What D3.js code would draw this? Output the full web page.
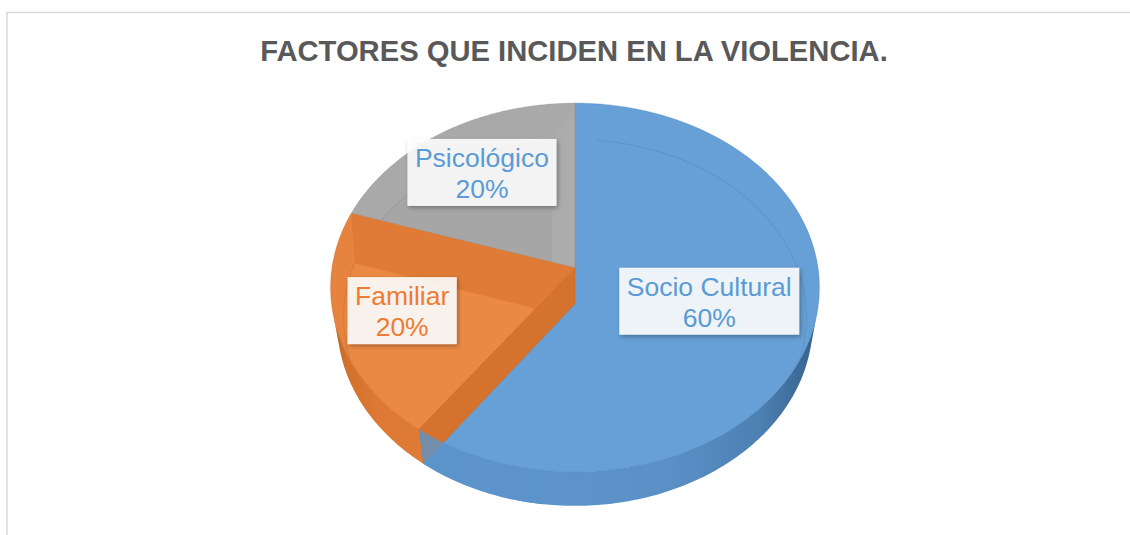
<!DOCTYPE html>
<html><head><meta charset="utf-8">
<script src="https://cdn.jsdelivr.net/npm/d3@7"></script>
<style>body{margin:0;background:#fff}svg{display:block}</style>
</head><body>
<script>
// ---------- data ----------
const title = "FACTORES QUE INCIDEN EN LA VIOLENCIA.";
const categories = ["Socio Cultural", "Familiar", "Psicológico"];
const values = [60, 20, 20];

// ---------- styles ----------
const topColors    = ["#66a0d6", "#eb8944", "#a6a6a6"];
const rimWallCols  = ["#66a0d6", "#e6843f", "#a9a9a9"];
const startWallCol = ["#66a0d6", "#e8863f", "#a6a6a6"];
const endWallCol   = ["#66a0d6", "#df7b36", "#acacac"];
const edgeCols     = ["#4f86bb", "#cf6d29", "#959595"];
const labelColors  = ["#5b9bd5", "#ed7d31", "#5b9bd5"];
const labelRadius  = [0.57, 0.73, 0.69];

const W = 1130, H = 535;
const S = 243, SINP = 0.75, COSP = Math.sqrt(1 - SINP * SINP), DIST = 6.25;
const CX = 575, CY = 268, THICK = 0.23;
const REC = 0.2, BW = 0.1, RIN = 0.97;
const CAM = [0, DIST * SINP, DIST * COSP];

const svg = d3.select("body").append("svg").attr("width", W).attr("height", H);
const defs = svg.append("defs");

// frame
svg.append("rect").attr("x", 7).attr("y", 12.5).attr("width", W + 20).attr("height", H + 20)
  .attr("fill", "none").attr("stroke", "#d9d9d9").attr("stroke-width", 1.5);

svg.append("text").attr("x", 574).attr("y", 61).attr("text-anchor", "middle")
  .attr("font-family", "'Liberation Sans', Arial, sans-serif").attr("font-weight", "bold")
  .attr("font-size", 29.2).attr("fill", "#595959").text(title);

// ---------- projection ----------
function proj(X, Y, Z) {
  const v = Y * COSP - Z * SINP;
  const d = Z * COSP + Y * SINP;
  const k = DIST / (DIST - d);
  return [CX + S * X * k, CY - S * v * k];
}
const U = a => [Math.sin(a), -Math.cos(a)];          // (X,Z) unit direction
const P2 = (xz, y) => proj(xz[0], y, xz[1]);
function poly(pts) { return "M" + pts.map(p => p[0].toFixed(2) + "," + p[1].toFixed(2)).join("L") + "Z"; }
function openPoly(pts) { return "M" + pts.map(p => p[0].toFixed(2) + "," + p[1].toFixed(2)).join("L"); }
function nsteps(a0, a1) { return Math.max(2, Math.ceil(Math.abs(a1 - a0) / (Math.PI / 180))); }
function arcPts(r, y, a0, a1) {
  const n = nsteps(a0, a1), pts = [];
  for (let i = 0; i <= n; i++) { const a = a0 + (a1 - a0) * i / n; pts.push(proj(r * Math.sin(a), y, -r * Math.cos(a))); }
  return pts;
}
function dot(a, b) { return a[0] * b[0] + a[1] * b[1] + a[2] * b[2]; }
function visible(n, p) { return dot(n, [CAM[0] - p[0], CAM[1] - p[1], CAM[2] - p[2]]) > 0; }
function runs(a0, a1, test) {
  const n = nsteps(a0, a1) * 2, out = []; let cur = null;
  for (let i = 0; i <= n; i++) {
    const a = a0 + (a1 - a0) * i / n;
    if (test(a)) { if (!cur) cur = [a, a]; cur[1] = a; }
    else if (cur) { out.push(cur); cur = null; }
  }
  if (cur) out.push(cur);
  return out.filter(r => r[1] > r[0]);
}

const arcs = d3.pie().sort(null).value(d => d)(values);
const total = d3.sum(values);
const fmt = d3.format(".0%");

// gradients for outer walls
const gB = defs.append("linearGradient").attr("id", "wallB").attr("gradientUnits", "userSpaceOnUse")
  .attr("x1", CX - S).attr("x2", CX + S).attr("y1", 0).attr("y2", 0);
[[0, "#5b93c9"], [0.35, "#5e96cd"], [0.7, "#5990c5"], [0.88, "#4d80b3"], [1, "#36618c"]]
  .forEach(s => gB.append("stop").attr("offset", s[0]).attr("stop-color", s[1]));
const gO = defs.append("linearGradient").attr("id", "wallO").attr("gradientUnits", "userSpaceOnUse")
  .attr("x1", CX - S).attr("x2", CX - 150).attr("y1", 0).attr("y2", 0);
[[0, "#b8601f"], [0.15, "#d2702c"], [0.5, "#dd7934"], [1, "#de7b36"]]
  .forEach(s => gO.append("stop").attr("offset", s[0]).attr("stop-color", s[1]));
const wallFill = ["url(#wallB)", "url(#wallO)", "#8f8f8f"];

const f = defs.append("filter").attr("id", "shadow").attr("x", "-20%").attr("y", "-20%").attr("width", "140%").attr("height", "150%");
f.append("feDropShadow").attr("dx", 1.5).attr("dy", 2).attr("stdDeviation", 2.2)
  .attr("flood-color", "#000").attr("flood-opacity", 0.35);

const pieG = svg.append("g");

function outerWallPath(a0, a1) {
  const top = arcPts(1, 0, a0, a1), bot = arcPts(1, -THICK, a0, a1).reverse();
  return poly(top.concat(bot));
}
function outerVisible(a) {
  const p = [Math.sin(a), 0, -Math.cos(a)];
  return visible([Math.sin(a), 0, -Math.cos(a)], p);
}

// 1. outer walls
arcs.forEach((d, i) => {
  runs(d.startAngle, d.endAngle, outerVisible).forEach(r => {
    pieG.append("path").attr("d", outerWallPath(r[0], r[1])).attr("fill", wallFill[i]);
  });
});

// slice top (recessed / bevelled)
function drawTop(d, i) {
  const a0 = d.startAngle, a1 = d.endAngle;
  const id = "clip" + i;
  const opening = [proj(0, 0, 0)].concat(arcPts(1, 0, a0, a1));
  defs.append("clipPath").attr("id", id).append("path").attr("d", poly(opening));
  const g = pieG.append("g").attr("clip-path", `url(#${id})`);
  g.append("path").attr("d", poly(opening)).attr("fill", topColors[i]);

  const n0 = [Math.cos(a0), Math.sin(a0)];
  const n1 = [-Math.cos(a1), -Math.sin(a1)];
  const det = n0[0] * n1[1] - n0[1] * n1[0];
  const apex = [BW * (n1[1] - n0[1]) / det, BW * (n0[0] - n1[0]) / det];
  const t = Math.sqrt(RIN * RIN - BW * BW);
  const u0 = U(a0), u1 = U(a1);
  const e0 = [BW * n0[0] + t * u0[0], BW * n0[1] + t * u0[1]];
  const e1 = [BW * n1[0] + t * u1[0], BW * n1[1] + t * u1[1]];
  const da = Math.asin(BW / RIN), b0 = a0 + da, b1 = a1 - da;

  // flat inner face
  const innerArc = arcPts(RIN, -REC, b0, b1);
  const flat = [P2(apex, -REC), P2(e0, -REC)].concat(innerArc).concat([P2(e1, -REC)]);
  g.append("path").attr("d", poly(flat)).attr("fill", topColors[i]);

  // rim wall
  const rimVis = a => {
    const n = [-REC * Math.sin(a), 1 - RIN, REC * Math.cos(a)];
    return visible(n, [Math.sin(a), 0, -Math.cos(a)]);
  };
  runs(a0, a1, rimVis).forEach(r => {
    const m = a => b0 + (a - a0) / (a1 - a0) * (b1 - b0);
    const pts = arcPts(1, 0, r[0], r[1]).concat(arcPts(RIN, -REC, m(r[1]), m(r[0])));
    g.append("path").attr("d", poly(pts)).attr("fill", rimWallCols[i]);
  });
  // radial walls
  [[n0, u0, e0, startWallCol[i]], [n1, u1, e1, endWallCol[i]]].forEach(([n, u, e, col]) => {
    const nrm = [REC * n[0], BW, REC * n[1]];
    const mid = [0.5 * u[0], 0, 0.5 * u[1]];
    if (!visible(nrm, mid)) return;
    const pts = [proj(0, 0, 0), P2(u, 0), P2(e, -REC), P2(apex, -REC)];
    g.append("path").attr("d", poly(pts)).attr("fill", col);
  });
  // faint bevel line along the inner arc
  g.append("path").attr("d", openPoly(innerArc)).attr("fill", "none")
    .attr("stroke", "rgba(0,0,0,0.10)").attr("stroke-width", 0.8);
  pieG.append("path").attr("d", poly(opening)).attr("fill", "none")
    .attr("stroke", edgeCols[i]).attr("stroke-width", 0.8).attr("stroke-opacity", 0.6);
}

// 2. blue and gray tops
drawTop(arcs[0], 0);
drawTop(arcs[2], 2);

// 3. orange radial side wall at the start edge (drawn over the blue top, as in the original)
{
  const a = arcs[1].startAngle, u = U(a);
  const pts = [proj(0, 0, 0), P2(u, 0), P2(u, -THICK), proj(0, -THICK, 0)];
  pieG.append("path").attr("d", poly(pts)).attr("fill", "#d4722e")
    .attr("stroke", "#c0631f").attr("stroke-width", 0.6).attr("stroke-opacity", 0.5);
}

// 4. orange top
drawTop(arcs[1], 1);

// 5. translucent front part of the blue outer wall overlapping the orange side
{
  const a1 = arcs[0].endAngle, a0 = a1 - 0.5;
  pieG.append("path").attr("d", outerWallPath(a0, a1)).attr("fill", "#5b93c9").attr("fill-opacity", 0.8);
}

// ---------- labels ----------
const lblG = svg.append("g").attr("font-family", "'Liberation Sans', Arial, sans-serif").attr("font-size", 26.5);
arcs.forEach((d, i) => {
  const mid = (d.startAngle + d.endAngle) / 2, r = labelRadius[i];
  const [lx, ly] = proj(r * Math.sin(mid), 0, -r * Math.cos(mid));
  const g = lblG.append("g");
  const rect = g.append("rect").attr("fill", "#ffffff").attr("fill-opacity", 0.88).attr("filter", "url(#shadow)");
  const t1 = g.append("text").attr("x", lx).attr("y", ly - 5).attr("text-anchor", "middle")
    .attr("fill", labelColors[i]).text(categories[i]);
  const t2 = g.append("text").attr("x", lx).attr("y", ly + 26).attr("text-anchor", "middle")
    .attr("fill", labelColors[i]).text(fmt(values[i] / total));
  const w = Math.max(t1.node().getComputedTextLength(), t2.node().getComputedTextLength()) + 15;
  rect.attr("x", lx - w / 2).attr("y", ly - 33).attr("width", w).attr("height", 67);
});
</script>
</body></html>
